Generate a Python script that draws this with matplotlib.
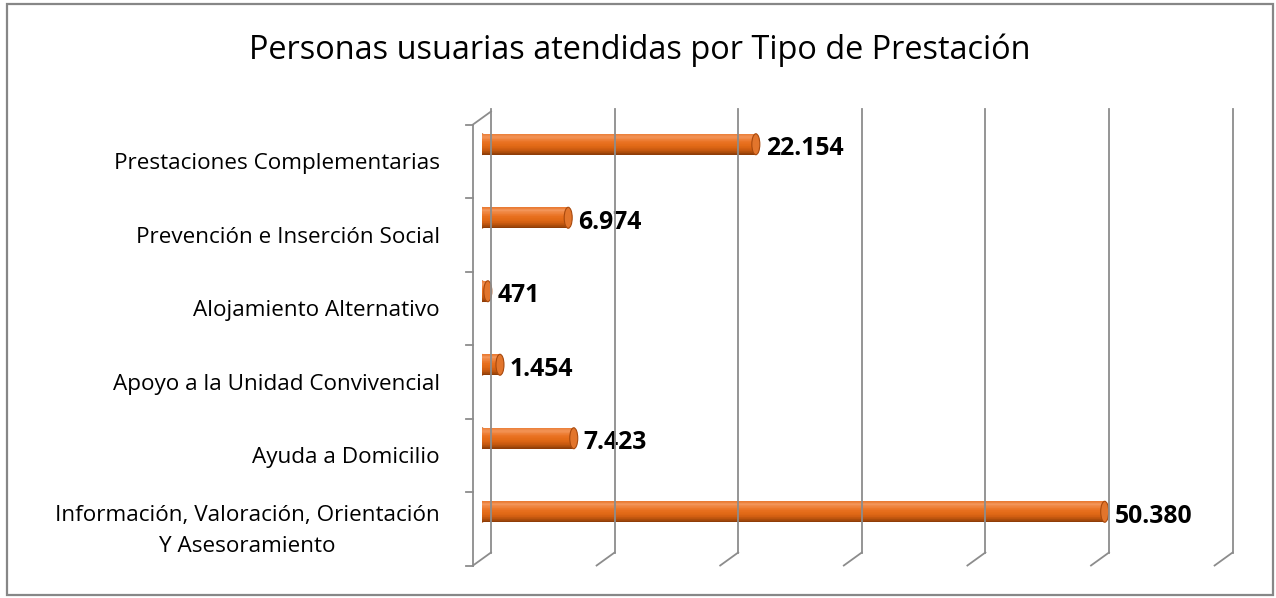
import numpy as np
import matplotlib
matplotlib.use("Agg")
import matplotlib.pyplot as plt
from matplotlib.transforms import IdentityTransform, ScaledTranslation, blended_transform_factory
from matplotlib.lines import Line2D
from matplotlib.patches import Ellipse, Rectangle
from matplotlib.colors import LinearSegmentedColormap

# ---------------- data ----------------
title = "Personas usuarias atendidas por Tipo de Prestación"
categories = [
    "Prestaciones Complementarias",
    "Prevención e Inserción Social",
    "Alojamiento Alternativo",
    "Apoyo a la Unidad Convivencial",
    "Ayuda a Domicilio",
    "Información, Valoración, Orientación\nY Asesoramiento",
]
values = [22154, 6974, 471, 1454, 7423, 50380]
value_labels = ["22.154", "6.974", "471", "1.454", "7.423", "50.380"]
x_ticks = [0, 10000, 20000, 30000, 40000, 50000, 60000]

# ---------------- style ----------------
FONT = "Open Sans"
W, H, DPI = 1276, 598, 100
GRID = "#8c8c8c"
DX, DY = 9, 6.5          # depth offset (px) of back wall vs mid plane
BAR_H = 0.285            # bar thickness in category units
BAR_SHIFT = 10.5         # bars drawn this many px above mid band centre
CAP_PX = 8               # end-cap ellipse width in px

fig = plt.figure(figsize=(W / DPI, H / DPI), dpi=DPI)
fig.patch.set_facecolor("white")

# mid plane of the 3-D box in pixels
left_px, right_px, top_px, bot_px = 482, 1223.6, 118, 559
ax = fig.add_axes([left_px / W, 1 - bot_px / H, (right_px - left_px) / W, (bot_px - top_px) / H])
ax.set_xlim(x_ticks[0], x_ticks[-1])
ax.set_ylim(len(categories) - 0.5, -0.5)
ax.axis("off")

xt = blended_transform_factory(ax.transData, ax.transAxes)


def px(x, y, trans):
    return trans.transform((x, y))


def dline(p0, p1, **kw):
    fig.add_artist(Line2D([p0[0], p1[0]], [p0[1], p1[1]], transform=IdentityTransform(), **kw))


glw = 1.3
# back wall vertical gridlines and floor diagonals
for v in x_ticks:
    b = px(v, 1, xt) + np.array([DX, DY + 3])
    bb = px(v, 0, xt) + np.array([DX, DY])
    ff = px(v, 0, xt) + np.array([-DX, -DY])
    dline(b, bb, color=GRID, lw=glw, zorder=1)
    dline(bb, ff, color=GRID, lw=glw, zorder=1)

# front left axis line, top diagonal and category tick marks
ft = px(0, 1, xt) + np.array([-DX, -DY])
fb = px(0, 0, xt) + np.array([-DX, -DY])
bt = px(0, 1, xt) + np.array([DX, DY])
dline(ft, fb, color=GRID, lw=glw, zorder=1)
dline(ft, bt, color=GRID, lw=glw, zorder=1)
for k in range(len(categories) + 1):
    p = px(0, k - 0.5, ax.transData) + np.array([-DX, -DY])
    dline(p, p + np.array([-7, 0]), color=GRID, lw=glw, zorder=1)

# cylinder bars (top of display -> bottom of display)
bar_tr = ax.transData + ScaledTranslation(0, BAR_SHIFT / DPI, fig.dpi_scale_trans)
cmap = LinearSegmentedColormap.from_list(
    "cyl", ["#e8782f", "#f3965a", "#ee8038", "#e8701f", "#e26a17", "#d35f12", "#b4500c", "#8a3b07"])
N = 30
ypos = np.arange(len(categories))
cap_w = CAP_PX / (right_px - left_px) * (x_ticks[-1] - x_ticks[0])
for i, v in enumerate(values):
    ax.add_patch(Ellipse((0, i), cap_w, BAR_H, facecolor="#e47328", edgecolor="#b9520f",
                         linewidth=0.6, transform=bar_tr, zorder=2.9))
for k in range(N):
    frac = (k + 0.5) / N
    off = -BAR_H / 2 + (k + 0.5) * BAR_H / N
    ax.barh(ypos + off, values, height=BAR_H / N * 1.08, left=0, color=cmap(frac),
            linewidth=0, transform=bar_tr, zorder=3)
for i, v in enumerate(values):
    ax.add_patch(Ellipse((v, i), cap_w, BAR_H, facecolor="#e2752c", edgecolor="#a8490d",
                         linewidth=0.8, transform=bar_tr, zorder=4))

# value labels
lab_tr = ax.transData + ScaledTranslation(10 / DPI, -(-BAR_SHIFT + 4.5) / DPI, fig.dpi_scale_trans)
for i, (v, s) in enumerate(zip(values, value_labels)):
    ax.text(v, i, s, transform=lab_tr, ha="left", va="center", fontsize=17.8,
            fontweight="bold", family=FONT, color="#000000", zorder=5)

# category labels
cat_tr = blended_transform_factory(ax.transAxes, ax.transData) + ScaledTranslation(
    -42 / DPI, -9.0 / DPI, fig.dpi_scale_trans)
for i, c in enumerate(categories):
    ax.text(0, i, c, transform=cat_tr, ha="right", va="center", multialignment="center",
            fontsize=16.2, family=FONT, color="#000000", linespacing=1.65)

# title
fig.text(640 / W, 1 - 59.3 / H, title, ha="center", va="baseline", fontsize=23.4,
         family=FONT, color="#000000")

# outer border
fig.add_artist(Rectangle((7 / W, 1 - 595 / H), (1273 - 7) / W, (595 - 4) / H,
                         transform=fig.transFigure, fill=False, edgecolor="#878787", linewidth=1.6))

fig.savefig("out.png", dpi=DPI, facecolor="white")
